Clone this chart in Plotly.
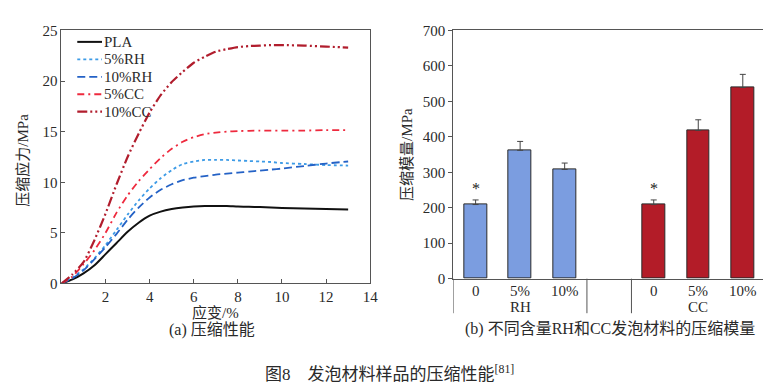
import plotly.graph_objects as go

# ---------------- data: (a) compressive stress-strain curves ----------------
strain = [0, 0.5, 1, 1.5, 2, 2.5, 3, 3.5, 4, 4.5, 5, 5.5, 6, 6.5, 7, 7.5, 8, 8.5, 9, 9.5, 10, 11, 12, 13]
pla    = [0, 0.4, 1.0, 1.8, 2.9, 4.0, 5.1, 6.0, 6.7, 7.1, 7.35, 7.5, 7.6, 7.65, 7.65, 7.65, 7.6, 7.58, 7.55, 7.5, 7.45, 7.4, 7.35, 7.3]
rh5    = [0, 0.6, 1.4, 2.5, 3.8, 5.3, 6.8, 8.2, 9.4, 10.4, 11.2, 11.8, 12.05, 12.2, 12.2, 12.2, 12.15, 12.1, 12.05, 12.0, 11.9, 11.8, 11.7, 11.65]
rh10   = [0, 0.5, 1.3, 2.4, 3.6, 4.9, 6.3, 7.5, 8.5, 9.25, 9.8, 10.2, 10.45, 10.6, 10.75, 10.85, 10.95, 11.05, 11.15, 11.25, 11.35, 11.6, 11.85, 12.05]
cc5    = [0, 0.7, 1.9, 3.3, 5.0, 7.0, 8.7, 10.1, 11.3, 12.4, 13.3, 14.0, 14.45, 14.75, 14.9, 15.0, 15.05, 15.08, 15.1, 15.1, 15.1, 15.1, 15.15, 15.15]
cc10   = [0, 0.9, 2.1, 4.3, 6.9, 9.8, 12.5, 14.8, 16.9, 18.6, 19.9, 20.9, 21.8, 22.4, 22.9, 23.15, 23.35, 23.45, 23.5, 23.55, 23.55, 23.5, 23.4, 23.3]
series_names = ["PLA", "5%RH", "10%RH", "5%CC", "10%CC"]

# ---------------- data: (b) compressive modulus ----------------
content_labels = ["0", "5%", "10%"]
rh_modulus = [209, 362, 308]
rh_err     = [13, 25, 18]
cc_modulus = [209, 418, 539]
cc_err     = [13, 30, 37]
group_names = ["RH", "CC"]
rh_pos = [0, 1, 2]
cc_pos = [4, 5, 6]

W, H = 771, 388
def px(x):
    return x / W
def py(y):
    return 1 - y / H

SERIF = "Liberation Serif, Times New Roman, Noto Sans CJK SC, serif"
TXT = "#2a2a2a"

fig = go.Figure()

styles = [
    dict(color="#111111", width=2, dash="solid"),
    dict(color="#3d9be6", width=1.8, dash="dot"),
    dict(color="#2462c6", width=1.8, dash="8px,4px"),
    dict(color="#ee2a3e", width=1.8, dash="7px,4px,2px,4px"),
    dict(color="#b11d2d", width=2.2, dash="10px,3px,2px,3px,2px,3px"),
]
for name, ys, st in zip(series_names, [pla, rh5, rh10, cc5, cc10], styles):
    fig.add_trace(go.Scatter(x=strain, y=ys, mode="lines", name=name, showlegend=False,
                             line=dict(shape="spline", smoothing=0.6, **st),
                             xaxis="x", yaxis="y"))

fig.add_trace(go.Bar(x=rh_pos, y=rh_modulus, width=0.51, showlegend=False,
                     marker=dict(color="#7b9de0", line=dict(color="#2a2a2a", width=1)),
                     error_y=dict(type="data", array=rh_err, arrayminus=[0]*3, symmetric=False,
                                  color="#444444", thickness=1, width=3),
                     xaxis="x2", yaxis="y2"))
fig.add_trace(go.Bar(x=cc_pos, y=cc_modulus, width=0.51, showlegend=False,
                     marker=dict(color="#b31c28", line=dict(color="#2a2a2a", width=1)),
                     error_y=dict(type="data", array=cc_err, arrayminus=[0]*3, symmetric=False,
                                  color="#444444", thickness=1, width=3),
                     xaxis="x2", yaxis="y2"))

axline = dict(showline=True, linecolor="#555555", linewidth=1, mirror=True,
              showgrid=False, zeroline=False,
              tickfont=dict(family=SERIF, size=15, color=TXT))

fig.update_layout(
    width=W, height=H, margin=dict(l=0, r=0, t=0, b=0),
    paper_bgcolor="white", plot_bgcolor="white",
    bargap=0, showlegend=False,
    xaxis=dict(domain=[px(54), px(366)], range=[0, 14], tickvals=[2, 4, 6, 8, 10, 12, 14],
               ticks="inside", ticklen=4, tickcolor="#555555", anchor="y", **axline),
    yaxis=dict(domain=[py(279), py(15)], range=[0, 25], tickvals=[0, 5, 10, 15, 20, 25],
               ticks="inside", ticklen=4, tickcolor="#555555", anchor="x", **axline),
    xaxis2=dict(domain=[px(450), px(765)], range=[-0.5, 6.5], showticklabels=False,
                ticks="", anchor="y2", **axline),
    yaxis2=dict(domain=[py(274), py(15)], range=[0, 700], tickvals=list(range(0, 701, 100)),
                ticks="outside", ticklen=4, tickcolor="#555555", anchor="x2", **axline),
)

ann = []
shapes = []
def text(x, y, s, size=15, angle=0, xanchor="center"):
    ann.append(dict(x=px(x), y=py(y), xref="paper", yref="paper", text=s, showarrow=False,
                    textangle=angle, xanchor=xanchor, yanchor="middle",
                    font=dict(family=SERIF, size=size, color=TXT)))

# manual legend (inside left panel)
for i, (name, st) in enumerate(zip(series_names, styles)):
    yy = 27 + 18.2 * i
    shapes.append(dict(type="line", xref="paper", yref="paper", x0=px(70), x1=px(95),
                       y0=py(yy), y1=py(yy),
                       line=dict(color=st["color"], width=st["width"], dash=st["dash"])))
    text(95, yy, name, size=15, xanchor="left")

text(15, 150, "压缩应力/MPa", angle=-90)
text(210, 309, "应变/%")
text(206, 327, "(a) 压缩性能", size=16)
text(403, 144, "压缩模量/MPa", angle=-90)
text(608, 326, "(b) 不同含量RH和CC发泡材料的压缩模量", size=16)
text(386, 372, "图8　发泡材料样品的压缩性能<sup>[81]</sup>", size=17)

# content labels and group labels under the right axis
for pos_list in (rh_pos, cc_pos):
    for p, lab in zip(pos_list, content_labels):
        ann.append(dict(x=p, y=py(287), xref="x2", yref="paper", text=lab, showarrow=False,
                        yanchor="middle", font=dict(family=SERIF, size=15, color=TXT)))
group_centers = [sum(rh_pos) / 3, sum(cc_pos) / 3]
for g, c in zip(group_names, group_centers):
    ann.append(dict(x=c, y=py(304), xref="x2", yref="paper", text=g, showarrow=False,
                    yanchor="middle", font=dict(family=SERIF, size=15, color=TXT)))
# significance asterisks above the 0% bars
for p, v, e in [(rh_pos[0], rh_modulus[0], rh_err[0]), (cc_pos[0], cc_modulus[0], cc_err[0])]:
    ann.append(dict(x=p, y=v + e + 4, xref="x2", yref="y2", text="*", showarrow=False,
                    yanchor="bottom", font=dict(family=SERIF, size=16, color="#222222")))

# group divider lines below the right axis
for xv in [-0.5, 2.5, 3.5, 6.5]:
    shapes.append(dict(type="line", xref="x2", yref="paper", x0=xv, x1=xv,
                       y0=py(274), y1=py(310), line=dict(color="#555555", width=1)))

fig.update_layout(annotations=ann, shapes=shapes)
fig.write_html("out.html")
